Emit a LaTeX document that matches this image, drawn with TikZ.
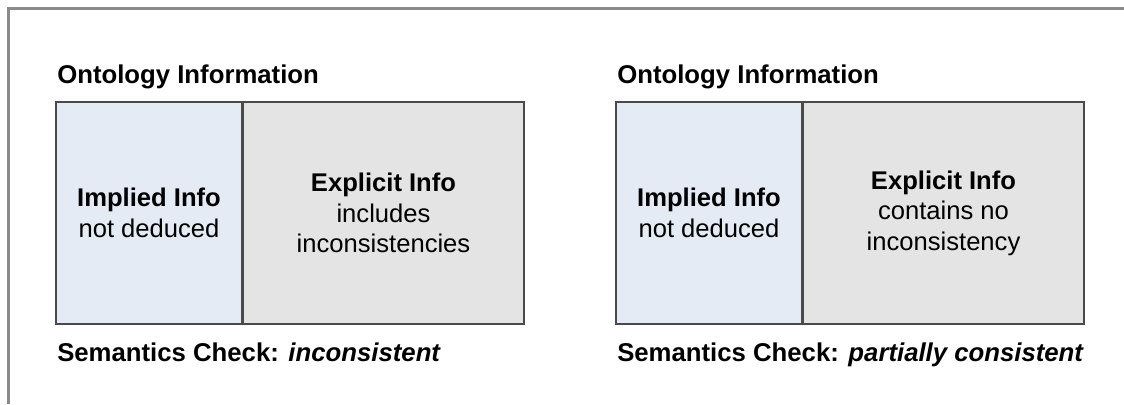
\documentclass[tikz,border=0pt]{standalone}
\usepackage{fontspec}
\setmainfont{Liberation Sans}
\usetikzlibrary{positioning}

\definecolor{impliedfill}{HTML}{E5EBF5}
\definecolor{explicitfill}{HTML}{E4E4E4}
\definecolor{boxline}{HTML}{4A4A4A}
\definecolor{frameline}{HTML}{8A8A8A}

\begin{document}
\begin{tikzpicture}[
		x=0.75pt, y=-0.75pt,
		font=\fontsize{19.2}{22.8}\selectfont,
		node distance=0pt,
		implied/.style={
			rectangle,
			draw=boxline,
			line width=1.5pt,
			fill=impliedfill,
			align=center,
			minimum width=139.5pt,
			minimum height=166.5pt
		},
		explicit/.style={
			rectangle,
			draw=boxline,
			line width=1.5pt,
			fill=explicitfill,
			align=center,
			minimum width=210.75pt,
			minimum height=166.5pt
		},
		caption/.style={
			anchor=base west,
			inner sep=0pt,
			font=\fontsize{19.3}{22.8}\selectfont\bfseries
		}
		]
		
		\useasboundingbox (0,0) rectangle (1124,404);
		\draw[frameline, line width=2.25pt] (1124,8) -- (8,8) -- (8,404);
		
		% left panel
		\node[caption] (titleA) at (57,83) {Ontology Information};
		\node[implied, anchor=north west] (impA) at (55,101) {
			\textbf{Implied Info}\\
			not deduced
		};
		\node[explicit, right=of impA.east, anchor=west, xshift=-0.75pt] (expA) {
			\textbf{Explicit Info}\\
			includes\\
			inconsistencies
		};
		\node[caption] (checkA) at (57,361) {Semantics Check: \textit{inconsistent}};
		
		% right panel
		\node[caption] (titleB) at (617,83) {Ontology Information};
		\node[implied, anchor=north west] (impB) at (615,101) {
			\textbf{Implied Info}\\
			not deduced
		};
		\node[explicit, right=of impB.east, anchor=west, xshift=-0.75pt] (expB) {
			\textbf{Explicit Info}\\
			contains no\\
			inconsistency
		};
		\node[caption] (checkB) at (617,361) {Semantics Check: \textit{partially consistent}};
		
	\end{tikzpicture}
\end{document}
